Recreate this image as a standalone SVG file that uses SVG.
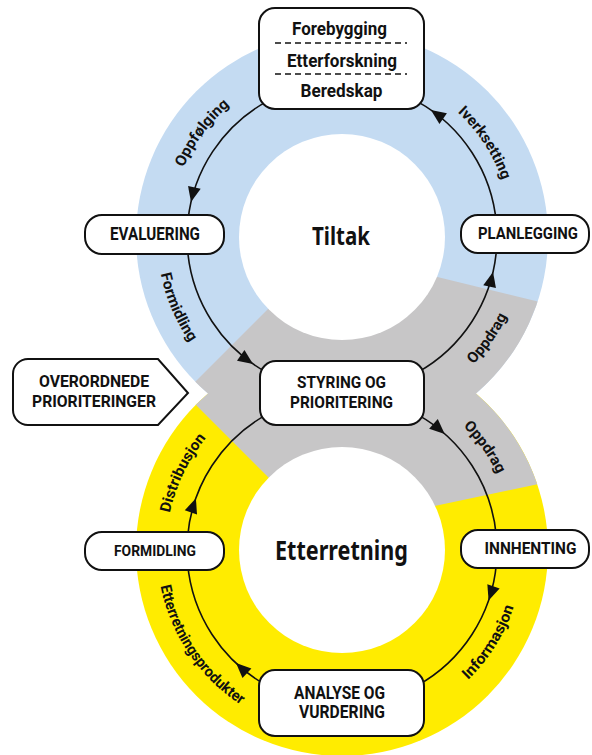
<svg xmlns="http://www.w3.org/2000/svg" xmlns:xlink="http://www.w3.org/1999/xlink" width="592" height="755" viewBox="0 0 592 755">
<style>
.box{fill:#fff;stroke:#111;stroke-width:2}
.n{font-family:Roboto,"Liberation Sans",sans-serif;font-weight:700;fill:#111;text-anchor:middle}
.t{font-family:"Noto Sans","Open Sans",sans-serif;font-weight:700;fill:#111;text-anchor:middle}
.lab{font-family:Roboto,"Liberation Sans",sans-serif;font-weight:700;font-size:15px;fill:#111;text-anchor:middle}
.arc{fill:none;stroke:#111;stroke-width:1.6}
.dash{stroke:#111;stroke-width:1.6;stroke-dasharray:6 4}
</style>
<defs>
<clipPath id="rings"><circle cx="342" cy="237" r="206"/><circle cx="342" cy="550" r="206"/></clipPath>
<path id="ah" d="M0,0 L-15,-6.5 L-15,6.5 Z" fill="#111"/>
<path id="p1" d="M170.1,217.1 A173,173 0 0 1 273.3,78.2"/>
<path id="p2" d="M158.3,214.8 A185,185 0 0 0 230.9,384.9"/>
<path id="p3" d="M418.1,85 A170,170 0 0 1 511.7,226.9"/>
<path id="p4" d="M419.6,402.7 A183,183 0 0 0 524.3,252.6"/>
<path id="p5" d="M412.9,392.2 A173,173 0 0 1 514.1,532.5"/>
<path id="p6" d="M426.7,710 A181,181 0 0 0 522.9,556.6"/>
<path id="p7" d="M158,530.7 A185,185 0 0 0 291,727.8"/>
<path id="p8" d="M166.5,562.9 A176,176 0 0 1 243.1,404.4"/>
</defs>
<g id="background">
<circle cx="342" cy="237" r="206" fill="#c4dbf2"/>
<circle cx="342" cy="550" r="206" fill="#ffec00"/>
<polygon points="327,250 700,341 700,450 321,530 184,393" fill="#c7c6c7" clip-path="url(#rings)"/>
<circle cx="342" cy="237" r="103" fill="#fff"/>
<circle cx="342" cy="550" r="103" fill="#fff"/>
</g>
<g id="connectors">
<path class="arc" d="M266.9,101.4 A155,155 0 0 0 187.9,220.8"/>
<path class="arc" d="M187.6,250.5 A155,155 0 0 0 266.9,372.6"/>
<path class="arc" d="M417.1,372.6 A155,155 0 0 0 496.4,250.5"/>
<path class="arc" d="M496.4,223.5 A155,155 0 0 0 417.1,101.4"/>
<path class="arc" d="M417.1,414.4 A155,155 0 0 1 496.4,536.5"/>
<path class="arc" d="M496.4,563.5 A155,155 0 0 1 417.1,685.6"/>
<path class="arc" d="M266.9,685.6 A155,155 0 0 1 187.6,563.5"/>
<path class="arc" d="M187.6,536.5 A155,155 0 0 1 266.9,414.4"/>
<use xlink:href="#ah" transform="translate(191,202) rotate(103)"/>
<use xlink:href="#ah" transform="translate(253,364) rotate(35)"/>
<use xlink:href="#ah" transform="translate(493,272) rotate(-77)"/>
<use xlink:href="#ah" transform="translate(430.9,110) rotate(-145)"/>
<use xlink:href="#ah" transform="translate(444.7,433.9) rotate(41.5)"/>
<use xlink:href="#ah" transform="translate(488.6,600.5) rotate(109)"/>
<use xlink:href="#ah" transform="translate(236,663) rotate(223.2)"/>
<use xlink:href="#ah" transform="translate(195.9,498.3) rotate(-70.5)"/>
</g>
<g id="connector-labels">
<text class="lab"><textPath xlink:href="#p1" startOffset="50%" textLength="78" lengthAdjust="spacingAndGlyphs">Oppfølging</textPath></text>
<text class="lab"><textPath xlink:href="#p2" startOffset="50%" textLength="75" lengthAdjust="spacingAndGlyphs">Formidling</textPath></text>
<text class="lab"><textPath xlink:href="#p3" startOffset="50%" textLength="82" lengthAdjust="spacingAndGlyphs">Iverksetting</textPath></text>
<text class="lab"><textPath xlink:href="#p4" startOffset="50%" textLength="59" lengthAdjust="spacingAndGlyphs">Oppdrag</textPath></text>
<text class="lab"><textPath xlink:href="#p5" startOffset="50%" textLength="59" lengthAdjust="spacingAndGlyphs">Oppdrag</textPath></text>
<text class="lab"><textPath xlink:href="#p6" startOffset="50%" textLength="87" lengthAdjust="spacingAndGlyphs">Informasjon</textPath></text>
<text class="lab"><textPath xlink:href="#p7" startOffset="50%" textLength="147" lengthAdjust="spacingAndGlyphs">Etterretningsprodukter</textPath></text>
<text class="lab"><textPath xlink:href="#p8" startOffset="50%" textLength="84" lengthAdjust="spacingAndGlyphs">Distribusjon</textPath></text>
</g>
<g id="node-tiltaksformer">
<rect class="box" x="259" y="8" width="165" height="101" rx="16"/>
<line class="dash" x1="275" y1="43" x2="407" y2="43"/>
<line class="dash" x1="275" y1="74" x2="407" y2="74"/>
<text class="n" x="339.5" y="35" font-size="18" textLength="95" lengthAdjust="spacingAndGlyphs">Forebygging</text>
<text class="n" x="342" y="66.7" font-size="18" textLength="110" lengthAdjust="spacingAndGlyphs">Etterforskning</text>
<text class="n" x="341.5" y="96.7" font-size="18" textLength="82" lengthAdjust="spacingAndGlyphs">Beredskap</text>
</g>
<g id="node-evaluering">
<rect class="box" x="85" y="215" width="139" height="39" rx="17"/>
<text class="n" x="155" y="240" font-size="18" textLength="90" lengthAdjust="spacingAndGlyphs">EVALUERING</text>
</g>
<g id="node-planlegging">
<rect class="box" x="461" y="215" width="128" height="38" rx="17"/>
<text class="n" x="528" y="239.3" font-size="16" textLength="100" lengthAdjust="spacingAndGlyphs">PLANLEGGING</text>
</g>
<g id="node-styring">
<rect class="box" x="260" y="361" width="164" height="64" rx="16"/>
<text class="n" x="341.5" y="388" font-size="17" textLength="89" lengthAdjust="spacingAndGlyphs">STYRING OG</text>
<text class="n" x="341.5" y="407.7" font-size="17" textLength="103" lengthAdjust="spacingAndGlyphs">PRIORITERING</text>
</g>
<g id="node-overordnede">
<path class="box" d="M28,359 H158 L188,393 L158,425 H28 A15,15 0 0 1 13,410 V374 A15,15 0 0 1 28,359 Z"/>
<text class="n" x="94" y="387.3" font-size="17" textLength="110" lengthAdjust="spacingAndGlyphs">OVERORDNEDE</text>
<text class="n" x="94" y="407.3" font-size="17" textLength="124" lengthAdjust="spacingAndGlyphs">PRIORITERINGER</text>
</g>
<g id="node-formidling">
<rect class="box" x="85" y="532" width="139" height="38" rx="17"/>
<text class="n" x="155" y="556" font-size="15.5" textLength="82" lengthAdjust="spacingAndGlyphs">FORMIDLING</text>
</g>
<g id="node-innhenting">
<rect class="box" x="461" y="530" width="128" height="38" rx="17"/>
<text class="n" x="530.5" y="554.3" font-size="16.5" textLength="92" lengthAdjust="spacingAndGlyphs">INNHENTING</text>
</g>
<g id="node-analyse">
<rect class="box" x="259" y="670" width="165" height="66" rx="16"/>
<text class="n" x="339.5" y="699.3" font-size="17.5" textLength="91" lengthAdjust="spacingAndGlyphs">ANALYSE OG</text>
<text class="n" x="342" y="718.3" font-size="17.5" textLength="86" lengthAdjust="spacingAndGlyphs">VURDERING</text>
</g>
<g id="titles">
<text class="t" x="341" y="245" font-size="25" textLength="58" lengthAdjust="spacingAndGlyphs">Tiltak</text>
<text class="t" x="341.5" y="560" font-size="26" textLength="133" lengthAdjust="spacingAndGlyphs">Etterretning</text>
</g>
</svg>
